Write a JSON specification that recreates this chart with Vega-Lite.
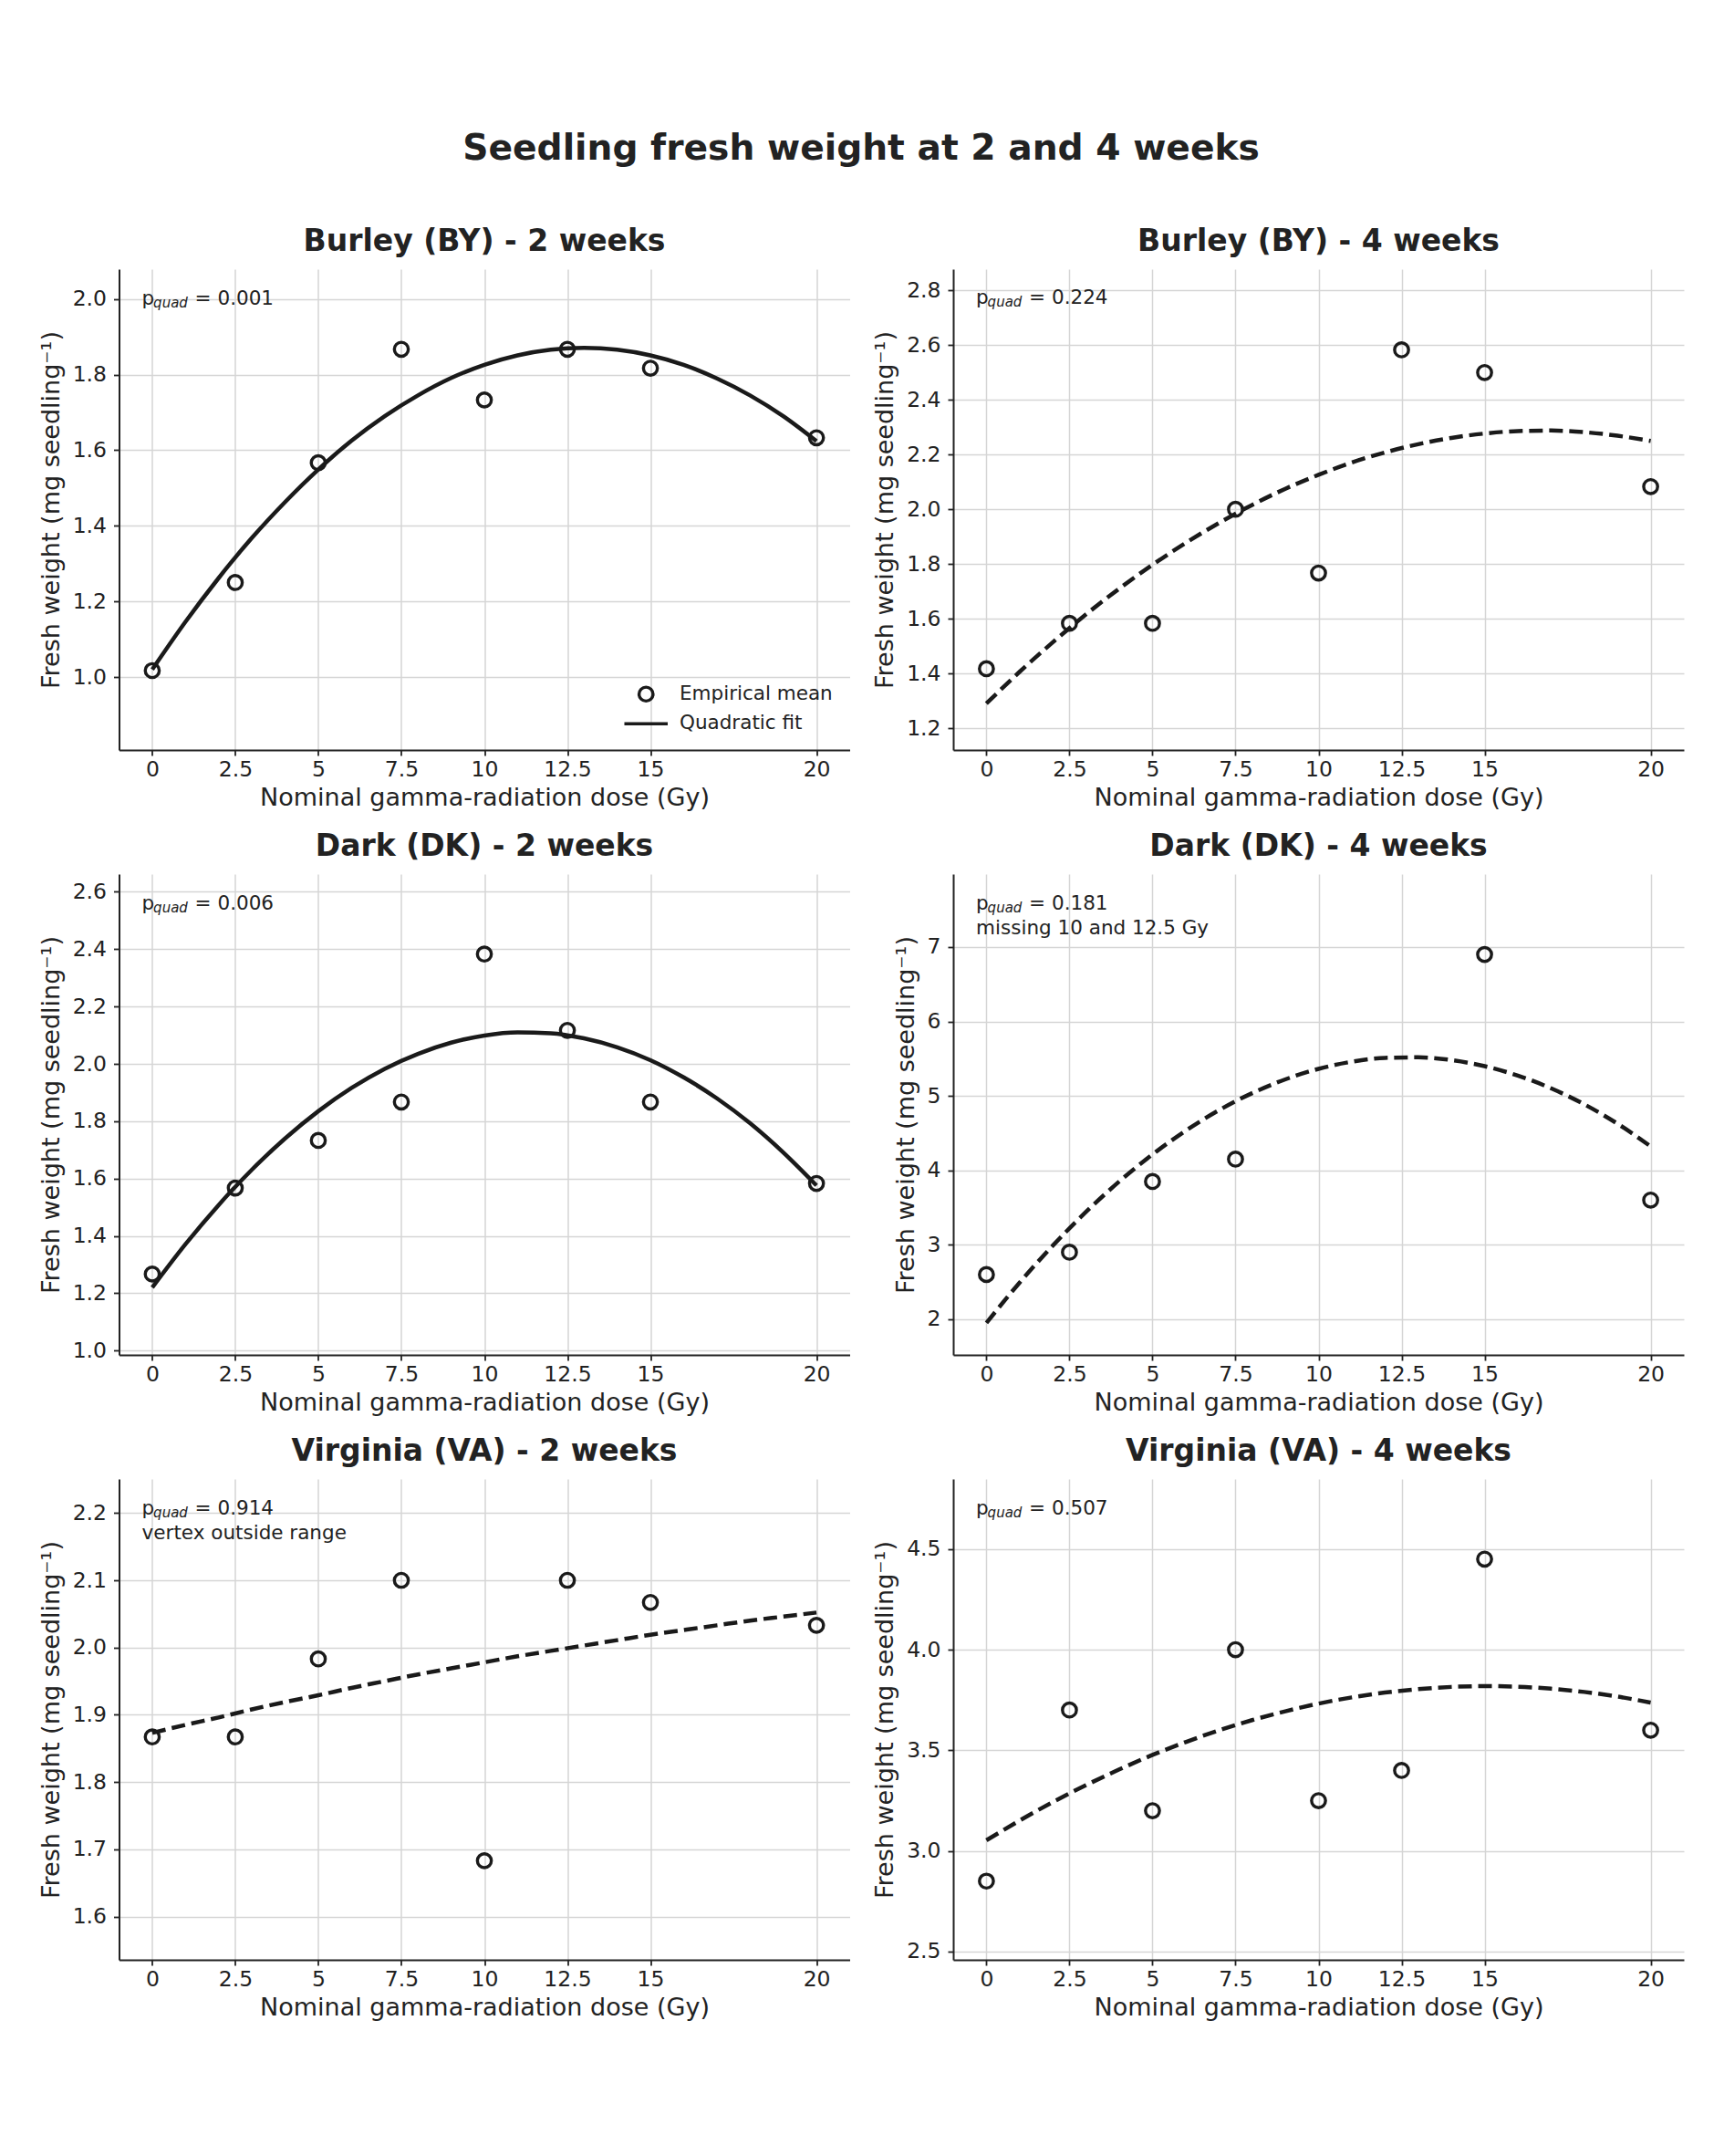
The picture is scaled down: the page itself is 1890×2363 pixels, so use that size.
{
  "$schema": "https://vega.github.io/schema/vega-lite/v6.json",
  "background": "white",
  "padding": {"left": 41.5, "top": 143, "right": 40, "bottom": 60},
  "title": {
    "text": "Seedling fresh weight at 2 and 4 weeks",
    "fontSize": 39.2,
    "anchor": "middle",
    "frame": "bounds",
    "offset": 66
  },
  "datasets": {
    "points": [
      {"panel": "BY2", "dose": 0, "weight": 1.017}, {"panel": "BY2", "dose": 2.5, "weight": 1.25}, {"panel": "BY2", "dose": 5, "weight": 1.567}, {"panel": "BY2", "dose": 7.5, "weight": 1.867},
      {"panel": "BY2", "dose": 10, "weight": 1.733}, {"panel": "BY2", "dose": 12.5, "weight": 1.867}, {"panel": "BY2", "dose": 15, "weight": 1.817}, {"panel": "BY2", "dose": 20, "weight": 1.633},
      {"panel": "BY4", "dose": 0, "weight": 1.417}, {"panel": "BY4", "dose": 2.5, "weight": 1.583}, {"panel": "BY4", "dose": 5, "weight": 1.583}, {"panel": "BY4", "dose": 7.5, "weight": 2.0},
      {"panel": "BY4", "dose": 10, "weight": 1.767}, {"panel": "BY4", "dose": 12.5, "weight": 2.583}, {"panel": "BY4", "dose": 15, "weight": 2.5}, {"panel": "BY4", "dose": 20, "weight": 2.083},
      {"panel": "DK2", "dose": 0, "weight": 1.267}, {"panel": "DK2", "dose": 2.5, "weight": 1.567}, {"panel": "DK2", "dose": 5, "weight": 1.733}, {"panel": "DK2", "dose": 7.5, "weight": 1.867},
      {"panel": "DK2", "dose": 10, "weight": 2.383}, {"panel": "DK2", "dose": 12.5, "weight": 2.117}, {"panel": "DK2", "dose": 15, "weight": 1.867}, {"panel": "DK2", "dose": 20, "weight": 1.583},
      {"panel": "DK4", "dose": 0, "weight": 2.6}, {"panel": "DK4", "dose": 2.5, "weight": 2.9}, {"panel": "DK4", "dose": 5, "weight": 3.85}, {"panel": "DK4", "dose": 7.5, "weight": 4.15},
      {"panel": "DK4", "dose": 15, "weight": 6.9}, {"panel": "DK4", "dose": 20, "weight": 3.6},
      {"panel": "VA2", "dose": 0, "weight": 1.867}, {"panel": "VA2", "dose": 2.5, "weight": 1.867}, {"panel": "VA2", "dose": 5, "weight": 1.983}, {"panel": "VA2", "dose": 7.5, "weight": 2.1},
      {"panel": "VA2", "dose": 10, "weight": 1.683}, {"panel": "VA2", "dose": 12.5, "weight": 2.1}, {"panel": "VA2", "dose": 15, "weight": 2.067}, {"panel": "VA2", "dose": 20, "weight": 2.033},
      {"panel": "VA4", "dose": 0, "weight": 2.85}, {"panel": "VA4", "dose": 2.5, "weight": 3.7}, {"panel": "VA4", "dose": 5, "weight": 3.2}, {"panel": "VA4", "dose": 7.5, "weight": 4.0},
      {"panel": "VA4", "dose": 10, "weight": 3.25}, {"panel": "VA4", "dose": 12.5, "weight": 3.4}, {"panel": "VA4", "dose": 15, "weight": 4.45}, {"panel": "VA4", "dose": 20, "weight": 3.6}
    ],
    "fits": [
      {"panel": "BY2", "dose": 0, "weight": 1.020}, {"panel": "BY2", "dose": 1, "weight": 1.146}, {"panel": "BY2", "dose": 2, "weight": 1.262}, {"panel": "BY2", "dose": 3, "weight": 1.368},
      {"panel": "BY2", "dose": 4, "weight": 1.463}, {"panel": "BY2", "dose": 5, "weight": 1.549}, {"panel": "BY2", "dose": 6, "weight": 1.625}, {"panel": "BY2", "dose": 7, "weight": 1.690},
      {"panel": "BY2", "dose": 8, "weight": 1.745}, {"panel": "BY2", "dose": 9, "weight": 1.791}, {"panel": "BY2", "dose": 10, "weight": 1.826}, {"panel": "BY2", "dose": 11, "weight": 1.851},
      {"panel": "BY2", "dose": 12, "weight": 1.866}, {"panel": "BY2", "dose": 13, "weight": 1.871}, {"panel": "BY2", "dose": 14, "weight": 1.866}, {"panel": "BY2", "dose": 15, "weight": 1.851},
      {"panel": "BY2", "dose": 16, "weight": 1.826}, {"panel": "BY2", "dose": 17, "weight": 1.790}, {"panel": "BY2", "dose": 18, "weight": 1.745}, {"panel": "BY2", "dose": 19, "weight": 1.690},
      {"panel": "BY2", "dose": 20, "weight": 1.624},
      {"panel": "BY4", "dose": 0, "weight": 1.290}, {"panel": "BY4", "dose": 1, "weight": 1.406}, {"panel": "BY4", "dose": 2, "weight": 1.514}, {"panel": "BY4", "dose": 3, "weight": 1.616},
      {"panel": "BY4", "dose": 4, "weight": 1.710}, {"panel": "BY4", "dose": 5, "weight": 1.797}, {"panel": "BY4", "dose": 6, "weight": 1.877}, {"panel": "BY4", "dose": 7, "weight": 1.950},
      {"panel": "BY4", "dose": 8, "weight": 2.016}, {"panel": "BY4", "dose": 9, "weight": 2.075}, {"panel": "BY4", "dose": 10, "weight": 2.126}, {"panel": "BY4", "dose": 11, "weight": 2.171},
      {"panel": "BY4", "dose": 12, "weight": 2.208}, {"panel": "BY4", "dose": 13, "weight": 2.238}, {"panel": "BY4", "dose": 14, "weight": 2.261}, {"panel": "BY4", "dose": 15, "weight": 2.277},
      {"panel": "BY4", "dose": 16, "weight": 2.286}, {"panel": "BY4", "dose": 17, "weight": 2.288}, {"panel": "BY4", "dose": 18, "weight": 2.282}, {"panel": "BY4", "dose": 19, "weight": 2.269},
      {"panel": "BY4", "dose": 20, "weight": 2.250},
      {"panel": "DK2", "dose": 0, "weight": 1.220}, {"panel": "DK2", "dose": 1, "weight": 1.371}, {"panel": "DK2", "dose": 2, "weight": 1.508}, {"panel": "DK2", "dose": 3, "weight": 1.631},
      {"panel": "DK2", "dose": 4, "weight": 1.740}, {"panel": "DK2", "dose": 5, "weight": 1.835}, {"panel": "DK2", "dose": 6, "weight": 1.916}, {"panel": "DK2", "dose": 7, "weight": 1.983},
      {"panel": "DK2", "dose": 8, "weight": 2.035}, {"panel": "DK2", "dose": 9, "weight": 2.074}, {"panel": "DK2", "dose": 10, "weight": 2.099}, {"panel": "DK2", "dose": 11, "weight": 2.110},
      {"panel": "DK2", "dose": 12, "weight": 2.107}, {"panel": "DK2", "dose": 13, "weight": 2.089}, {"panel": "DK2", "dose": 14, "weight": 2.058}, {"panel": "DK2", "dose": 15, "weight": 2.013},
      {"panel": "DK2", "dose": 16, "weight": 1.953}, {"panel": "DK2", "dose": 17, "weight": 1.880}, {"panel": "DK2", "dose": 18, "weight": 1.793}, {"panel": "DK2", "dose": 19, "weight": 1.691},
      {"panel": "DK2", "dose": 20, "weight": 1.576},
      {"panel": "DK4", "dose": 0, "weight": 1.950}, {"panel": "DK4", "dose": 1, "weight": 2.492}, {"panel": "DK4", "dose": 2, "weight": 2.989}, {"panel": "DK4", "dose": 3, "weight": 3.442},
      {"panel": "DK4", "dose": 4, "weight": 3.850}, {"panel": "DK4", "dose": 5, "weight": 4.213}, {"panel": "DK4", "dose": 6, "weight": 4.532}, {"panel": "DK4", "dose": 7, "weight": 4.807},
      {"panel": "DK4", "dose": 8, "weight": 5.037}, {"panel": "DK4", "dose": 9, "weight": 5.222}, {"panel": "DK4", "dose": 10, "weight": 5.363}, {"panel": "DK4", "dose": 11, "weight": 5.459},
      {"panel": "DK4", "dose": 12, "weight": 5.511}, {"panel": "DK4", "dose": 13, "weight": 5.518}, {"panel": "DK4", "dose": 14, "weight": 5.481}, {"panel": "DK4", "dose": 15, "weight": 5.399},
      {"panel": "DK4", "dose": 16, "weight": 5.273}, {"panel": "DK4", "dose": 17, "weight": 5.102}, {"panel": "DK4", "dose": 18, "weight": 4.887}, {"panel": "DK4", "dose": 19, "weight": 4.627},
      {"panel": "DK4", "dose": 20, "weight": 4.322},
      {"panel": "VA2", "dose": 0, "weight": 1.873}, {"panel": "VA2", "dose": 1, "weight": 1.885}, {"panel": "VA2", "dose": 2, "weight": 1.896}, {"panel": "VA2", "dose": 3, "weight": 1.908},
      {"panel": "VA2", "dose": 4, "weight": 1.919}, {"panel": "VA2", "dose": 5, "weight": 1.929}, {"panel": "VA2", "dose": 6, "weight": 1.940}, {"panel": "VA2", "dose": 7, "weight": 1.950},
      {"panel": "VA2", "dose": 8, "weight": 1.960}, {"panel": "VA2", "dose": 9, "weight": 1.969}, {"panel": "VA2", "dose": 10, "weight": 1.978}, {"panel": "VA2", "dose": 11, "weight": 1.987},
      {"panel": "VA2", "dose": 12, "weight": 1.995}, {"panel": "VA2", "dose": 13, "weight": 2.003}, {"panel": "VA2", "dose": 14, "weight": 2.011}, {"panel": "VA2", "dose": 15, "weight": 2.019},
      {"panel": "VA2", "dose": 16, "weight": 2.026}, {"panel": "VA2", "dose": 17, "weight": 2.033}, {"panel": "VA2", "dose": 18, "weight": 2.040}, {"panel": "VA2", "dose": 19, "weight": 2.046},
      {"panel": "VA2", "dose": 20, "weight": 2.052},
      {"panel": "VA4", "dose": 0, "weight": 3.053}, {"panel": "VA4", "dose": 1, "weight": 3.151}, {"panel": "VA4", "dose": 2, "weight": 3.243}, {"panel": "VA4", "dose": 3, "weight": 3.327},
      {"panel": "VA4", "dose": 4, "weight": 3.405}, {"panel": "VA4", "dose": 5, "weight": 3.477}, {"panel": "VA4", "dose": 6, "weight": 3.541}, {"panel": "VA4", "dose": 7, "weight": 3.599},
      {"panel": "VA4", "dose": 8, "weight": 3.650}, {"panel": "VA4", "dose": 9, "weight": 3.694}, {"panel": "VA4", "dose": 10, "weight": 3.732}, {"panel": "VA4", "dose": 11, "weight": 3.763},
      {"panel": "VA4", "dose": 12, "weight": 3.787}, {"panel": "VA4", "dose": 13, "weight": 3.804}, {"panel": "VA4", "dose": 14, "weight": 3.815}, {"panel": "VA4", "dose": 15, "weight": 3.819},
      {"panel": "VA4", "dose": 16, "weight": 3.816}, {"panel": "VA4", "dose": 17, "weight": 3.806}, {"panel": "VA4", "dose": 18, "weight": 3.790}, {"panel": "VA4", "dose": 19, "weight": 3.767},
      {"panel": "VA4", "dose": 20, "weight": 3.737}
    ],
    "notes": [
      {"panel": "BY2", "pval": "= 0.001", "note": ""},
      {"panel": "BY4", "pval": "= 0.224", "note": ""},
      {"panel": "DK2", "pval": "= 0.006", "note": ""},
      {"panel": "DK4", "pval": "= 0.181", "note": "missing 10 and 12.5 Gy"},
      {"panel": "VA2", "pval": "= 0.914", "note": "vertex outside range"},
      {"panel": "VA4", "pval": "= 0.507", "note": ""}
    ]
  },
  "columns": 2,
  "spacing": {"row": 136, "column": 113.5},
  "bounds": "flush",
  "resolve": {
    "scale": {"x": "independent", "y": "independent", "shape": "independent"},
    "legend": {"shape": "independent"}
  },
  "concat": [
    {
      "title": "Burley (BY) - 2 weeks",
      "width": 801, "height": 527,
      "layer": [
        {
          "data": {"name": "points"},
          "transform": [{"filter": "datum.panel == 'BY2'"}],
          "mark": "point",
          "encoding": {
            "x": {"field": "dose", "type": "quantitative", "scale": {"domain": [-1, 21], "nice": false, "zero": false}, "axis": {"values": [0, 2.5, 5, 7.5, 10, 12.5, 15, 20], "labelExpr": "format(datum.value, '~g')", "title": "Nominal gamma-radiation dose (Gy)"}},
            "y": {"field": "weight", "type": "quantitative", "scale": {"domain": [0.807, 2.079], "nice": false, "zero": false}, "axis": {"values": [1.0, 1.2, 1.4, 1.6, 1.8, 2.0], "format": ".1f", "title": "Fresh weight (mg seedling⁻¹)"}},
            "shape": {
              "datum": "Empirical mean",
              "type": "nominal",
              "scale": {"domain": ["Empirical mean", "Quadratic fit"], "range": ["circle", "M-3.1,0H3.1"]},
              "legend": {"orient": "bottom-right", "title": null, "offset": 18}
            }
          }
        },
        {
          "data": {"name": "fits"},
          "transform": [{"filter": "datum.panel == 'BY2'"}],
          "mark": "line",
          "encoding": {"x": {"field": "dose", "type": "quantitative"}, "y": {"field": "weight", "type": "quantitative"}}
        },
        {
          "data": {"name": "notes"},
          "transform": [{"filter": "datum.panel == 'BY2'"}],
          "mark": "text",
          "encoding": {"x": {"datum": -0.31}, "y": {"datum": 1.986}, "text": {"value": "p"}}
        },
        {
          "data": {"name": "notes"},
          "transform": [{"filter": "datum.panel == 'BY2'"}],
          "mark": {"type": "text", "fontStyle": "italic", "fontSize": 15, "dx": 12.5, "dy": 3},
          "encoding": {"x": {"datum": -0.31}, "y": {"datum": 1.986}, "text": {"value": "quad"}}
        },
        {
          "data": {"name": "notes"},
          "transform": [{"filter": "datum.panel == 'BY2'"}],
          "mark": {"type": "text", "dx": 58},
          "encoding": {"x": {"datum": -0.31}, "y": {"datum": 1.986}, "text": {"field": "pval"}}
        }
      ]
    },
    {
      "title": "Burley (BY) - 4 weeks",
      "width": 801, "height": 527,
      "layer": [
        {
          "data": {"name": "points"},
          "transform": [{"filter": "datum.panel == 'BY4'"}],
          "mark": "point",
          "encoding": {
            "x": {"field": "dose", "type": "quantitative", "scale": {"domain": [-1, 21], "nice": false, "zero": false}, "axis": {"values": [0, 2.5, 5, 7.5, 10, 12.5, 15, 20], "labelExpr": "format(datum.value, '~g')", "title": "Nominal gamma-radiation dose (Gy)"}},
            "y": {"field": "weight", "type": "quantitative", "scale": {"domain": [1.12, 2.878], "nice": false, "zero": false}, "axis": {"values": [1.2, 1.4, 1.6, 1.8, 2.0, 2.2, 2.4, 2.6, 2.8], "format": ".1f", "title": "Fresh weight (mg seedling⁻¹)"}}
          }
        },
        {
          "data": {"name": "fits"},
          "transform": [{"filter": "datum.panel == 'BY4'"}],
          "mark": {"type": "line", "strokeDash": [15, 7]},
          "encoding": {"x": {"field": "dose", "type": "quantitative"}, "y": {"field": "weight", "type": "quantitative"}}
        },
        {
          "data": {"name": "notes"},
          "transform": [{"filter": "datum.panel == 'BY4'"}],
          "mark": "text",
          "encoding": {"x": {"datum": -0.31}, "y": {"datum": 2.750}, "text": {"value": "p"}}
        },
        {
          "data": {"name": "notes"},
          "transform": [{"filter": "datum.panel == 'BY4'"}],
          "mark": {"type": "text", "fontStyle": "italic", "fontSize": 15, "dx": 12.5, "dy": 3},
          "encoding": {"x": {"datum": -0.31}, "y": {"datum": 2.750}, "text": {"value": "quad"}}
        },
        {
          "data": {"name": "notes"},
          "transform": [{"filter": "datum.panel == 'BY4'"}],
          "mark": {"type": "text", "dx": 58},
          "encoding": {"x": {"datum": -0.31}, "y": {"datum": 2.750}, "text": {"field": "pval"}}
        }
      ]
    },
    {
      "title": "Dark (DK) - 2 weeks",
      "width": 801, "height": 527,
      "layer": [
        {
          "data": {"name": "points"},
          "transform": [{"filter": "datum.panel == 'DK2'"}],
          "mark": "point",
          "encoding": {
            "x": {"field": "dose", "type": "quantitative", "scale": {"domain": [-1, 21], "nice": false, "zero": false}, "axis": {"values": [0, 2.5, 5, 7.5, 10, 12.5, 15, 20], "labelExpr": "format(datum.value, '~g')", "title": "Nominal gamma-radiation dose (Gy)"}},
            "y": {"field": "weight", "type": "quantitative", "scale": {"domain": [0.985, 2.662], "nice": false, "zero": false}, "axis": {"values": [1.0, 1.2, 1.4, 1.6, 1.8, 2.0, 2.2, 2.4, 2.6], "format": ".1f", "title": "Fresh weight (mg seedling⁻¹)"}}
          }
        },
        {
          "data": {"name": "fits"},
          "transform": [{"filter": "datum.panel == 'DK2'"}],
          "mark": "line",
          "encoding": {"x": {"field": "dose", "type": "quantitative"}, "y": {"field": "weight", "type": "quantitative"}}
        },
        {
          "data": {"name": "notes"},
          "transform": [{"filter": "datum.panel == 'DK2'"}],
          "mark": "text",
          "encoding": {"x": {"datum": -0.31}, "y": {"datum": 2.539}, "text": {"value": "p"}}
        },
        {
          "data": {"name": "notes"},
          "transform": [{"filter": "datum.panel == 'DK2'"}],
          "mark": {"type": "text", "fontStyle": "italic", "fontSize": 15, "dx": 12.5, "dy": 3},
          "encoding": {"x": {"datum": -0.31}, "y": {"datum": 2.539}, "text": {"value": "quad"}}
        },
        {
          "data": {"name": "notes"},
          "transform": [{"filter": "datum.panel == 'DK2'"}],
          "mark": {"type": "text", "dx": 58},
          "encoding": {"x": {"datum": -0.31}, "y": {"datum": 2.539}, "text": {"field": "pval"}}
        }
      ]
    },
    {
      "title": "Dark (DK) - 4 weeks",
      "width": 801, "height": 527,
      "layer": [
        {
          "data": {"name": "points"},
          "transform": [{"filter": "datum.panel == 'DK4'"}],
          "mark": "point",
          "encoding": {
            "x": {"field": "dose", "type": "quantitative", "scale": {"domain": [-1, 21], "nice": false, "zero": false}, "axis": {"values": [0, 2.5, 5, 7.5, 10, 12.5, 15, 20], "labelExpr": "format(datum.value, '~g')", "title": "Nominal gamma-radiation dose (Gy)"}},
            "y": {"field": "weight", "type": "quantitative", "scale": {"domain": [1.52, 7.98], "nice": false, "zero": false}, "axis": {"values": [2, 3, 4, 5, 6, 7], "format": "d", "title": "Fresh weight (mg seedling⁻¹)"}}
          }
        },
        {
          "data": {"name": "fits"},
          "transform": [{"filter": "datum.panel == 'DK4'"}],
          "mark": {"type": "line", "strokeDash": [15, 7]},
          "encoding": {"x": {"field": "dose", "type": "quantitative"}, "y": {"field": "weight", "type": "quantitative"}}
        },
        {
          "data": {"name": "notes"},
          "transform": [{"filter": "datum.panel == 'DK4'"}],
          "mark": "text",
          "encoding": {"x": {"datum": -0.31}, "y": {"datum": 7.508}, "text": {"value": "p"}}
        },
        {
          "data": {"name": "notes"},
          "transform": [{"filter": "datum.panel == 'DK4'"}],
          "mark": {"type": "text", "fontStyle": "italic", "fontSize": 15, "dx": 12.5, "dy": 3},
          "encoding": {"x": {"datum": -0.31}, "y": {"datum": 7.508}, "text": {"value": "quad"}}
        },
        {
          "data": {"name": "notes"},
          "transform": [{"filter": "datum.panel == 'DK4'"}],
          "mark": {"type": "text", "dx": 58},
          "encoding": {"x": {"datum": -0.31}, "y": {"datum": 7.508}, "text": {"field": "pval"}}
        },
        {
          "data": {"name": "notes"},
          "transform": [{"filter": "datum.panel == 'DK4'"}],
          "mark": "text",
          "encoding": {"x": {"datum": -0.31}, "y": {"datum": 7.174}, "text": {"field": "note"}}
        }
      ]
    },
    {
      "title": "Virginia (VA) - 2 weeks",
      "width": 801, "height": 527,
      "layer": [
        {
          "data": {"name": "points"},
          "transform": [{"filter": "datum.panel == 'VA2'"}],
          "mark": "point",
          "encoding": {
            "x": {"field": "dose", "type": "quantitative", "scale": {"domain": [-1, 21], "nice": false, "zero": false}, "axis": {"values": [0, 2.5, 5, 7.5, 10, 12.5, 15, 20], "labelExpr": "format(datum.value, '~g')", "title": "Nominal gamma-radiation dose (Gy)"}},
            "y": {"field": "weight", "type": "quantitative", "scale": {"domain": [1.5356, 2.2506], "nice": false, "zero": false}, "axis": {"values": [1.6, 1.7, 1.8, 1.9, 2.0, 2.1, 2.2], "format": ".1f", "title": "Fresh weight (mg seedling⁻¹)"}}
          }
        },
        {
          "data": {"name": "fits"},
          "transform": [{"filter": "datum.panel == 'VA2'"}],
          "mark": {"type": "line", "strokeDash": [15, 7]},
          "encoding": {"x": {"field": "dose", "type": "quantitative"}, "y": {"field": "weight", "type": "quantitative"}}
        },
        {
          "data": {"name": "notes"},
          "transform": [{"filter": "datum.panel == 'VA2'"}],
          "mark": "text",
          "encoding": {"x": {"datum": -0.31}, "y": {"datum": 2.198}, "text": {"value": "p"}}
        },
        {
          "data": {"name": "notes"},
          "transform": [{"filter": "datum.panel == 'VA2'"}],
          "mark": {"type": "text", "fontStyle": "italic", "fontSize": 15, "dx": 12.5, "dy": 3},
          "encoding": {"x": {"datum": -0.31}, "y": {"datum": 2.198}, "text": {"value": "quad"}}
        },
        {
          "data": {"name": "notes"},
          "transform": [{"filter": "datum.panel == 'VA2'"}],
          "mark": {"type": "text", "dx": 58},
          "encoding": {"x": {"datum": -0.31}, "y": {"datum": 2.198}, "text": {"field": "pval"}}
        },
        {
          "data": {"name": "notes"},
          "transform": [{"filter": "datum.panel == 'VA2'"}],
          "mark": "text",
          "encoding": {"x": {"datum": -0.31}, "y": {"datum": 2.161}, "text": {"field": "note"}}
        }
      ]
    },
    {
      "title": "Virginia (VA) - 4 weeks",
      "width": 801, "height": 527,
      "layer": [
        {
          "data": {"name": "points"},
          "transform": [{"filter": "datum.panel == 'VA4'"}],
          "mark": "point",
          "encoding": {
            "x": {"field": "dose", "type": "quantitative", "scale": {"domain": [-1, 21], "nice": false, "zero": false}, "axis": {"values": [0, 2.5, 5, 7.5, 10, 12.5, 15, 20], "labelExpr": "format(datum.value, '~g')", "title": "Nominal gamma-radiation dose (Gy)"}},
            "y": {"field": "weight", "type": "quantitative", "scale": {"domain": [2.459, 4.848], "nice": false, "zero": false}, "axis": {"values": [2.5, 3.0, 3.5, 4.0, 4.5], "format": ".1f", "title": "Fresh weight (mg seedling⁻¹)"}}
          }
        },
        {
          "data": {"name": "fits"},
          "transform": [{"filter": "datum.panel == 'VA4'"}],
          "mark": {"type": "line", "strokeDash": [15, 7]},
          "encoding": {"x": {"field": "dose", "type": "quantitative"}, "y": {"field": "weight", "type": "quantitative"}}
        },
        {
          "data": {"name": "notes"},
          "transform": [{"filter": "datum.panel == 'VA4'"}],
          "mark": "text",
          "encoding": {"x": {"datum": -0.31}, "y": {"datum": 4.673}, "text": {"value": "p"}}
        },
        {
          "data": {"name": "notes"},
          "transform": [{"filter": "datum.panel == 'VA4'"}],
          "mark": {"type": "text", "fontStyle": "italic", "fontSize": 15, "dx": 12.5, "dy": 3},
          "encoding": {"x": {"datum": -0.31}, "y": {"datum": 4.673}, "text": {"value": "quad"}}
        },
        {
          "data": {"name": "notes"},
          "transform": [{"filter": "datum.panel == 'VA4'"}],
          "mark": {"type": "text", "dx": 58},
          "encoding": {"x": {"datum": -0.31}, "y": {"datum": 4.673}, "text": {"field": "pval"}}
        }
      ]
    }
  ],
  "config": {
    "font": "DejaVu Sans",
    "view": {"stroke": null},
    "axis": {
      "labelFont": "DejaVu Sans", "labelFontSize": 23.5, "labelColor": "#222222",
      "titleFont": "DejaVu Sans", "titleFontSize": 27, "titleFontWeight": "normal", "titleColor": "#222222",
      "domainColor": "#222222", "domainWidth": 2,
      "tickColor": "#222222", "tickWidth": 1.8, "tickSize": 6,
      "grid": true, "gridColor": "#d5d5d5", "gridWidth": 1.5,
      "labelOverlap": false, "labelFlush": false
    },
    "axisX": {"labelPadding": 3, "titlePadding": 7},
    "axisY": {"labelPadding": 8, "titlePadding": 9},
    "title": {"font": "DejaVu Sans", "fontSize": 33, "fontWeight": "bold", "color": "#222222", "offset": 13, "baseline": "alphabetic"},
    "legend": {
      "labelFont": "DejaVu Sans", "labelFontSize": 21.5, "labelColor": "#222222", "labelLimit": 500,
      "symbolSize": 235, "symbolStrokeWidth": 3.5, "symbolStrokeColor": "#1a1a1a", "symbolFillColor": "transparent",
      "labelOffset": 26, "rowPadding": 5.5
    },
    "point": {"filled": false, "size": 235, "strokeWidth": 3.4, "color": "#1a1a1a", "opacity": 1},
    "line": {"color": "#1a1a1a", "strokeWidth": 4.5, "interpolate": "monotone"},
    "text": {"font": "DejaVu Sans", "fontSize": 21.5, "color": "#222222", "align": "left", "baseline": "alphabetic"}
  }
}
